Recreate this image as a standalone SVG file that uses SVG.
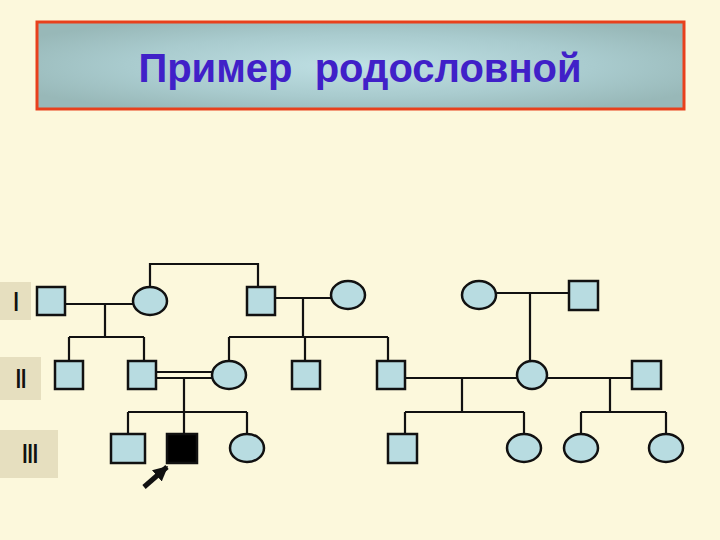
<svg xmlns="http://www.w3.org/2000/svg" width="720" height="540" viewBox="0 0 720 540">
<defs>
<radialGradient id="tg" cx="50%" cy="50%" r="60%">
<stop offset="0" stop-color="#bfe0e4"/>
<stop offset="0.6" stop-color="#a9cbce"/>
<stop offset="1" stop-color="#98b8b8"/>
</radialGradient>
<marker id="ah" viewBox="0 0 10 10" refX="9" refY="5" markerWidth="3" markerHeight="3" orient="auto">
<path d="M0,0 L10,5 L0,10 z" fill="#111"/>
</marker>
<style>
.n{fill:#b8dce1;stroke:#111;stroke-width:2.5}
.a{fill:#000;stroke:#111;stroke-width:2.5}
.c{fill:none;stroke:#111;stroke-width:2.2}
.lb{fill:#e6dfbf}
.lt{font-family:"Liberation Sans",Arial,sans-serif;font-size:27px;font-weight:bold;fill:#111;text-anchor:middle}
</style>
</defs>
<rect width="720" height="540" fill="#fcf8dc"/>
<g id="title">
<rect x="37" y="22" width="647" height="87" fill="url(#tg)" stroke="#e8401c" stroke-width="3"/>
<text x="360" y="82" font-family="Liberation Sans,Arial,sans-serif" font-size="40" font-weight="bold" fill="#4020c8" text-anchor="middle" xml:space="preserve">Пример  родословной</text>
</g>
<g id="gen-labels">
<rect class="lb" x="0" y="282" width="31" height="38"/>
<text class="lt" transform="translate(16 311) scale(0.7 1)">I</text>
<rect class="lb" x="0" y="357" width="41" height="43"/>
<text class="lt" transform="translate(21 388) scale(0.7 1)">II</text>
<rect class="lb" x="0" y="430" width="58" height="48"/>
<text class="lt" transform="translate(30 463) scale(0.7 1)">III</text>
</g>
<g id="connectors">
<path class="c" d="M65,304 H133 M105,304 V337 M69,337 H144 M69,337 V361 M144,337 V361"/>
<path class="c" d="M150,287 V264 H258 V287"/>
<path class="c" d="M275,298 H331 M303,298 V337 M229,337 H388 M229,337 V361 M305,337 V361 M388,337 V361"/>
<path class="c" d="M156,372 H213 M156,378 H213 M184,378 V412 M128,412 H247 M128,412 V434 M184,412 V434 M247,412 V434"/>
<path class="c" d="M497,293 H569 M530,293 V361"/>
<path class="c" d="M405,378 H517 M547,378 H632 M462,378 V412 M405,412 H524 M405,412 V434 M524,412 V434 M610,378 V412 M581,412 H666 M581,412 V434 M666,412 V434"/>
<line x1="144" y1="487" x2="167" y2="467" stroke="#111" stroke-width="5" marker-end="url(#ah)"/>
</g>
<g id="I-1"><rect class="n" x="37" y="287" width="28" height="28"/></g>
<g id="I-2"><ellipse class="n" cx="150" cy="301" rx="17" ry="14"/></g>
<g id="I-3"><rect class="n" x="247" y="287" width="28" height="28"/></g>
<g id="I-4"><ellipse class="n" cx="348" cy="295" rx="17" ry="14"/></g>
<g id="I-5"><ellipse class="n" cx="479" cy="295" rx="17" ry="14"/></g>
<g id="I-6"><rect class="n" x="569" y="281" width="29" height="29"/></g>
<g id="II-1"><rect class="n" x="55" y="361" width="28" height="28"/></g>
<g id="II-2"><rect class="n" x="128" y="361" width="28" height="28"/></g>
<g id="II-3"><ellipse class="n" cx="229" cy="375" rx="17" ry="14"/></g>
<g id="II-4"><rect class="n" x="292" y="361" width="28" height="28"/></g>
<g id="II-5"><rect class="n" x="377" y="361" width="28" height="28"/></g>
<g id="II-6"><ellipse class="n" cx="532" cy="375" rx="15" ry="14"/></g>
<g id="II-7"><rect class="n" x="632" y="361" width="29" height="28"/></g>
<g id="III-1"><rect class="n" x="111" y="434" width="34" height="29"/></g>
<g id="III-2"><rect class="a" x="167" y="434" width="30" height="29"/></g>
<g id="III-3"><ellipse class="n" cx="247" cy="448" rx="17" ry="14"/></g>
<g id="III-4"><rect class="n" x="388" y="434" width="29" height="29"/></g>
<g id="III-5"><ellipse class="n" cx="524" cy="448" rx="17" ry="14"/></g>
<g id="III-6"><ellipse class="n" cx="581" cy="448" rx="17" ry="14"/></g>
<g id="III-7"><ellipse class="n" cx="666" cy="448" rx="17" ry="14"/></g>
</svg>
